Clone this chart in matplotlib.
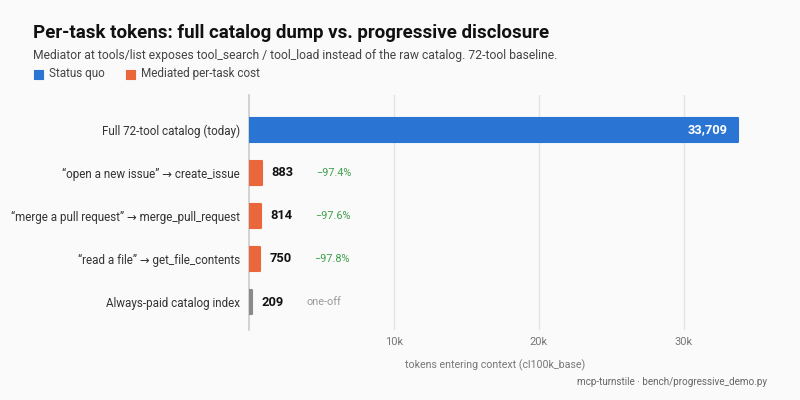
import matplotlib
matplotlib.use("Agg")
import matplotlib.pyplot as plt
from matplotlib.patches import Rectangle
from matplotlib.ticker import FuncFormatter

plt.rcParams['font.family'] = ['Roboto', 'DejaVu Sans']

categories = [
    "Full 72-tool catalog (today)",
    "\u201copen a new issue\u201d \u2192 create_issue",
    "\u201cmerge a pull request\u201d \u2192 merge_pull_request",
    "\u201cread a file\u201d \u2192 get_file_contents",
    "Always-paid catalog index",
]
values = [33709, 883, 814, 750, 209]
kinds = ["status", "mediated", "mediated", "mediated", "index"]
notes = ["", "\u221297.4%", "\u221297.6%", "\u221297.8%", "one-off"]
xticks = [10000, 20000, 30000]

BLUE = "#2a74d3"
ORANGE = "#e9673a"
GRAY = "#8a8a8a"
GREEN = "#3da04a"
BG = "#fafafa"

fig = plt.figure(figsize=(8, 4), dpi=100, facecolor=BG)
ax = fig.add_axes([249/800, 1-330/400, (742-249)/800, (330-95)/400])
ax.set_facecolor(BG)

colors = {"status": BLUE, "mediated": ORANGE, "index": GRAY}
ys = list(range(len(categories)))
for y, v, k in zip(ys, values, kinds):
    ax.barh(y, v, height=0.56, color=colors[k],
            edgecolor=colors[k], linewidth=1.5, joinstyle="round", zorder=3)

ax.set_xlim(0, 34000)
ax.set_ylim(4.65, -0.81)
ax.set_yticks(ys)
ax.set_yticklabels(categories, fontsize=8.4, color="#333333")
ax.tick_params(axis="y", length=0, pad=6.5)
ax.set_xticks(xticks)
ax.xaxis.set_major_formatter(FuncFormatter(lambda x, p: f"{int(x/1000)}k"))
ax.tick_params(axis="x", length=0, pad=5, labelsize=8, labelcolor="#777777")
ax.grid(axis="x", color="#e4e4e4", linewidth=1, zorder=0)
for s in ["top", "right", "bottom"]:
    ax.spines[s].set_visible(False)
ax.spines["left"].set_color("#cccccc")
ax.spines["left"].set_linewidth(1.2)
ax.set_xlabel("tokens entering context (cl100k_base)", fontsize=7.7, color="#777777")
ax.xaxis.set_label_coords(0.5, -0.125)

for y, v, k, n in zip(ys, values, kinds, notes):
    if k == "status":
        ax.annotate(f"{v:,}", (v, y), xytext=(-7.5, 0), textcoords="offset points",
                    ha="right", va="center", color="white", fontsize=9.3, fontweight="bold", zorder=4)
    else:
        ax.annotate(f"{v:,}", (v, y), xytext=(7, 0), textcoords="offset points",
                    ha="left", va="center", color="#111111", fontsize=9.3, fontweight="bold", zorder=4)
        ax.annotate(n, (v, y), xytext=(39, 0), textcoords="offset points",
                    ha="left", va="center", color=GREEN if k == "mediated" else "#999999",
                    fontsize=7.8, zorder=4)

fig.text(33/800, 1-33/400, "Per-task tokens: full catalog dump vs. progressive disclosure",
         fontsize=13.5, fontweight="bold", color="#111111", va="center")
fig.text(33/800, 1-55/400, "Mediator at tools/list exposes tool_search / tool_load instead of the raw catalog. 72-tool baseline.",
         fontsize=8.7, color="#444444", va="center")
for x0, col, lab in [(34, BLUE, "Status quo"), (126, ORANGE, "Mediated per-task cost")]:
    fig.patches.append(Rectangle((x0/800, 1-78.5/400), 9/800, 9/400, transform=fig.transFigure,
                                 facecolor=col, edgecolor=col, linewidth=0.8, joinstyle="round"))
    fig.text((x0+15)/800, 1-74/400, lab, fontsize=8.5, color="#444444", va="center")
fig.text(767/800, 1-382/400, "mcp-turnstile \u00b7 bench/progressive_demo.py",
         fontsize=7.1, color="#666666", va="center", ha="right")

fig.savefig("out.png", dpi=100, facecolor=BG)
